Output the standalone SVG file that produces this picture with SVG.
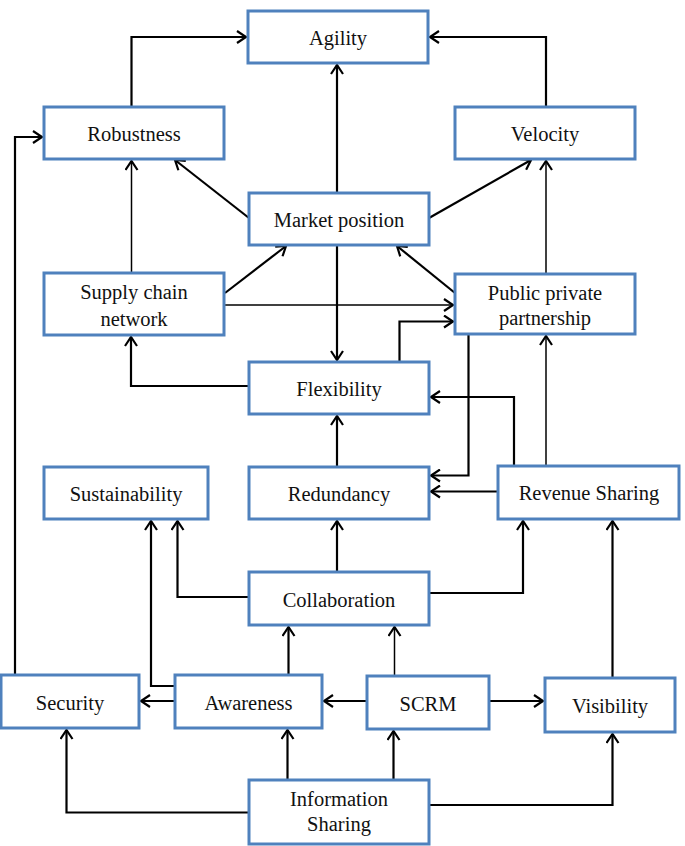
<svg xmlns="http://www.w3.org/2000/svg" width="685" height="846" viewBox="0 0 685 846">
<style>
.box{fill:#fff;stroke:#4F81BD;stroke-width:3}
.t{font-family:"Liberation Serif","DejaVu Serif",serif;font-size:20.5px;fill:#111;text-anchor:middle}
.c{fill:none;stroke:#000;stroke-width:2.2}
.c.thin{stroke-width:1.5}
</style>
<defs>
<marker id="ah" markerUnits="userSpaceOnUse" markerWidth="14" markerHeight="14" refX="11" refY="7" orient="auto">
<path d="M2,1 L11,7 L2,13" fill="none" stroke="#000" stroke-width="2.2"/>
</marker>
</defs>
<rect width="685" height="846" fill="#fff"/>
<g id="connectors">
<path class="c" d="M131.5,107 V37 H246" marker-end="url(#ah)"/>
<path class="c" d="M546,107 V37 H430" marker-end="url(#ah)"/>
<path class="c" d="M337,193 V65" marker-end="url(#ah)"/>
<path class="c" d="M249,218 L175,160" marker-end="url(#ah)"/>
<path class="c" d="M429,218 L531,160" marker-end="url(#ah)"/>
<path class="c thin" d="M131.5,273 V161" marker-end="url(#ah)"/>
<path class="c thin" d="M546,274 V161" marker-end="url(#ah)"/>
<path class="c" d="M15,675 V137 H42" marker-end="url(#ah)"/>
<path class="c" d="M225,293 L286,246" marker-end="url(#ah)"/>
<path class="c" d="M455,293 L397,246" marker-end="url(#ah)"/>
<path class="c thin" d="M225,305 H453" marker-end="url(#ah)"/>
<path class="c" d="M337,245 V360" marker-end="url(#ah)"/>
<path class="c" d="M399.5,362 V321.5 H453" marker-end="url(#ah)"/>
<path class="c" d="M249,386 H131 V337" marker-end="url(#ah)"/>
<path class="c" d="M468.5,334 V475.5 H431" marker-end="url(#ah)"/>
<path class="c" d="M514,466 V397 H431" marker-end="url(#ah)"/>
<path class="c" d="M498,491.5 H431" marker-end="url(#ah)"/>
<path class="c thin" d="M546,466 V336" marker-end="url(#ah)"/>
<path class="c" d="M337,467 V416" marker-end="url(#ah)"/>
<path class="c" d="M337,572 V521" marker-end="url(#ah)"/>
<path class="c" d="M249,597 H177.5 V521" marker-end="url(#ah)"/>
<path class="c" d="M175,686 H151 V521" marker-end="url(#ah)"/>
<path class="c" d="M429,593 H523 V521" marker-end="url(#ah)"/>
<path class="c" d="M612.5,678 V521" marker-end="url(#ah)"/>
<path class="c" d="M288.5,675 V627" marker-end="url(#ah)"/>
<path class="c thin" d="M394.5,676 V627" marker-end="url(#ah)"/>
<path class="c" d="M175,701 H141" marker-end="url(#ah)"/>
<path class="c" d="M367,701 H324" marker-end="url(#ah)"/>
<path class="c" d="M489,701 H543" marker-end="url(#ah)"/>
<path class="c" d="M249,812.5 H66.5 V730" marker-end="url(#ah)"/>
<path class="c" d="M287.5,780 V730" marker-end="url(#ah)"/>
<path class="c" d="M393.5,780 V731" marker-end="url(#ah)"/>
<path class="c" d="M429,805 H612.5 V734" marker-end="url(#ah)"/>
</g>
<g id="agility"><rect class="box" x="248" y="11" width="180" height="52"/><text class="t" x="338" y="45">Agility</text></g>
<g id="robustness"><rect class="box" x="44" y="107" width="180" height="52"/><text class="t" x="134" y="141">Robustness</text></g>
<g id="velocity"><rect class="box" x="455" y="107" width="180" height="52"/><text class="t" x="545" y="141">Velocity</text></g>
<g id="market-position"><rect class="box" x="249" y="193" width="180" height="52"/><text class="t" x="339" y="227">Market position</text></g>
<g id="supply-chain-network"><rect class="box" x="44" y="273" width="180" height="62"/><text class="t" x="134" y="299">Supply chain</text><text class="t" x="134" y="326">network</text></g>
<g id="public-private-partnership"><rect class="box" x="455" y="274" width="180" height="60"/><text class="t" x="545" y="300">Public private</text><text class="t" x="545" y="325">partnership</text></g>
<g id="flexibility"><rect class="box" x="249" y="362" width="180" height="52"/><text class="t" x="339" y="396">Flexibility</text></g>
<g id="sustainability"><rect class="box" x="44" y="467" width="164" height="52"/><text class="t" x="126" y="501">Sustainability</text></g>
<g id="redundancy"><rect class="box" x="249" y="467" width="180" height="52"/><text class="t" x="339" y="501">Redundancy</text></g>
<g id="revenue-sharing"><rect class="box" x="498" y="466" width="181" height="53"/><text class="t" x="589" y="500">Revenue Sharing</text></g>
<g id="collaboration"><rect class="box" x="249" y="572" width="180" height="53"/><text class="t" x="339" y="607">Collaboration</text></g>
<g id="security"><rect class="box" x="1" y="675" width="138" height="53"/><text class="t" x="70" y="710">Security</text></g>
<g id="awareness"><rect class="box" x="175" y="675" width="147" height="53"/><text class="t" x="248.5" y="710">Awareness</text></g>
<g id="scrm"><rect class="box" x="367" y="676" width="122" height="53"/><text class="t" x="428" y="711">SCRM</text></g>
<g id="visibility"><rect class="box" x="545" y="678" width="130" height="54"/><text class="t" x="610" y="713">Visibility</text></g>
<g id="information-sharing"><rect class="box" x="249" y="780" width="180" height="64"/><text class="t" x="339" y="806">Information</text><text class="t" x="339" y="831">Sharing</text></g>
</svg>
